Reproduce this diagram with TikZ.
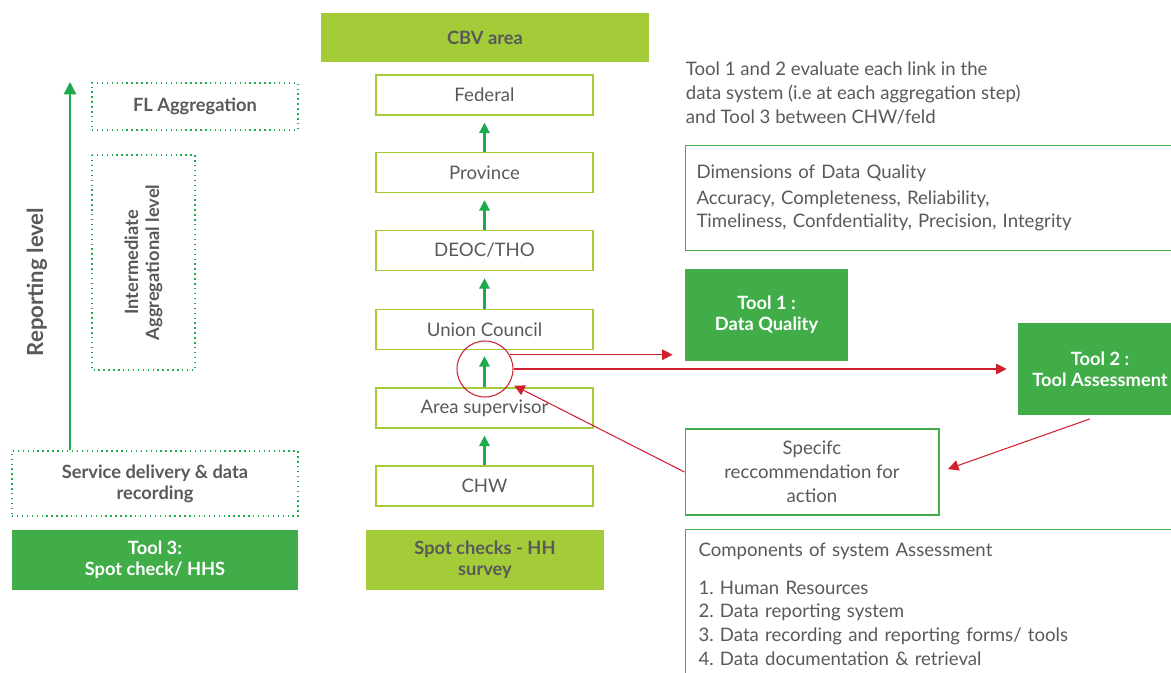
\documentclass[tikz,border=0pt]{standalone}
\usepackage{fontspec}
\setmainfont{Lato}
\usepackage{xcolor}
\usetikzlibrary{arrows.meta, positioning, calc}
\definecolor{lime}{HTML}{A4CB38}
\definecolor{toolgreen}{HTML}{41AD49}
\definecolor{arrgreen}{HTML}{1DAA4E}
\definecolor{redline}{HTML}{D0202E}
\definecolor{txtgray}{HTML}{58595B}
\frenchspacing
\tikzset{every node/.style={align=center, text=txtgray, font=\fontsize{10.6}{13.6}\selectfont}}

\begin{document}
\begin{tikzpicture}[x=0.02cm, y=-0.02cm,
    lvlbox/.style={draw=lime, line width=0.8pt, minimum width=4.34cm, minimum height=0.8cm},
    areabox/.style={fill=lime, font=\fontsize{10.4}{12}\selectfont\bfseries},
    toolbox/.style={fill=toolgreen, text=white, font=\fontsize{10.4}{12}\selectfont\bfseries},
    dotbox/.style={draw=arrgreen, dotted, line width=0.8pt, font=\fontsize{10.4}{12}\selectfont\bfseries},
    infobox/.style={draw=toolgreen, line width=0.6pt},
    uparrow/.style={draw=arrgreen, line width=1.2pt, -{Triangle[length=6pt,width=6pt]}},
    redarrow/.style={draw=redline, line width=0.6pt, -{Triangle[length=6pt,width=6pt]}}
]
  \useasboundingbox (0,0) rectangle (1171,673);
  % CBV column
  \node (cbv)  at (485,37.5) [areabox, minimum width=6.56cm, minimum height=0.98cm] {CBV area};
  \node (fed)  at (484.5,95)    [lvlbox] {Federal};
  \node (prov) at (484.5,172.5) [lvlbox] {Province};
  \node (deoc) at (484.5,250.5) [lvlbox] {DEOC/THO};
  \node (uc)   at (484.5,329.5) [lvlbox] {Union Council};
  \node (as)   at (484.5,408)   [lvlbox] {Area supervisor};
  \node (chw)  at (484.5,486)   [lvlbox] {CHW};
  \node (spot) at (485,560) [areabox, minimum width=4.76cm, minimum height=1.2cm] {Spot checks - HH\\survey};
  \draw[uparrow, shorten >=0.14cm] (prov.north) -- (fed.south);
  \draw[uparrow, shorten >=0.14cm] (deoc.north) -- (prov.south);
  \draw[uparrow, shorten >=0.14cm] (uc.north) -- (deoc.south);
  \draw[uparrow, shorten >=0.12cm] (as.north) -- (uc.south);
  \draw[uparrow, shorten >=0.14cm] (chw.north) -- (as.south);
  \node (link) at (485,369) [draw=redline, line width=0.6pt, circle, minimum size=1.12cm] {};

  % Left side
  \node (rep)  at (37,282) [rotate=90, font=\fontsize{12.6}{14}\selectfont\bfseries] {Reporting level};
  \node (fl)   at (195,106.5) [dotbox, minimum width=4.12cm, minimum height=0.94cm] {FL Aggregation};
  \node (inter) at (143.5,262.5) [dotbox, rotate=90, minimum width=4.3cm, minimum height=2.06cm] {Intermediate\\Aggregational level};
  \node (svc)  at (155,483.5) [dotbox, minimum width=5.72cm, minimum height=1.3cm] {Service delivery \& data\\recording};
  \node (tool3) at (155,560) [toolbox, minimum width=5.72cm, minimum height=1.2cm] {Tool 3:\\Spot check/ HHS};
  \coordinate (top) at (70,82);
  \draw[draw=arrgreen, line width=0.8pt, -{Triangle[length=7pt,width=7pt]}] (svc.north -| top) -- (top);

  % Right side
  \node (note) at (682,58) [anchor=north west, align=left, inner sep=2pt] {Tool 1 and 2 evaluate each link in the\\data system (i.e at each aggregation step)\\and Tool 3 between CHW/feld};
  \node (dims) at (685,145) [infobox, anchor=north west, align=left, minimum width=10.1cm, minimum height=2.1cm, text width=9.66cm, inner sep=0.22cm] {Dimensions of Data Quality\\[1pt]Accuracy, Completeness, Reliability,\\Timeliness, Confdentiality, Precision, Integrity};
  \node (tool1) at (766.5,315) [toolbox, minimum width=3.26cm, minimum height=1.84cm] {Tool 1 :\\Data Quality};
  \node (tool2) at (1100,369) [toolbox, minimum width=3.28cm, minimum height=1.84cm] {Tool 2 :\\Tool Assessment};
  \node (rec)  at (812,472) [infobox, minimum width=5.08cm, minimum height=1.72cm] {Specifc\\reccommendation for\\action};
  \node (comp) at (685,529) [infobox, anchor=north west, align=left, text width=9.66cm, inner sep=0.26cm] {Components of system Assessment\\[8pt]1. Human Resources\\2. Data reporting system\\3. Data recording and reporting forms/ tools\\4. Data documentation \& retrieval\\[2pt]};

  % Red connectors
  \draw[redarrow, shorten >=0.24cm] (link.30) -- (link.30 -| tool1.west);
  \draw[redarrow, shorten >=0.22cm] (link.east) -- (link.east -| tool2.west);
  \draw[redarrow, shorten <=0.22cm, shorten >=0.18cm] (tool2.south) -- (rec.east);
  \draw[redarrow, shorten >=0.1cm] (rec.west) -- (link.-30);
\end{tikzpicture}
\end{document}
